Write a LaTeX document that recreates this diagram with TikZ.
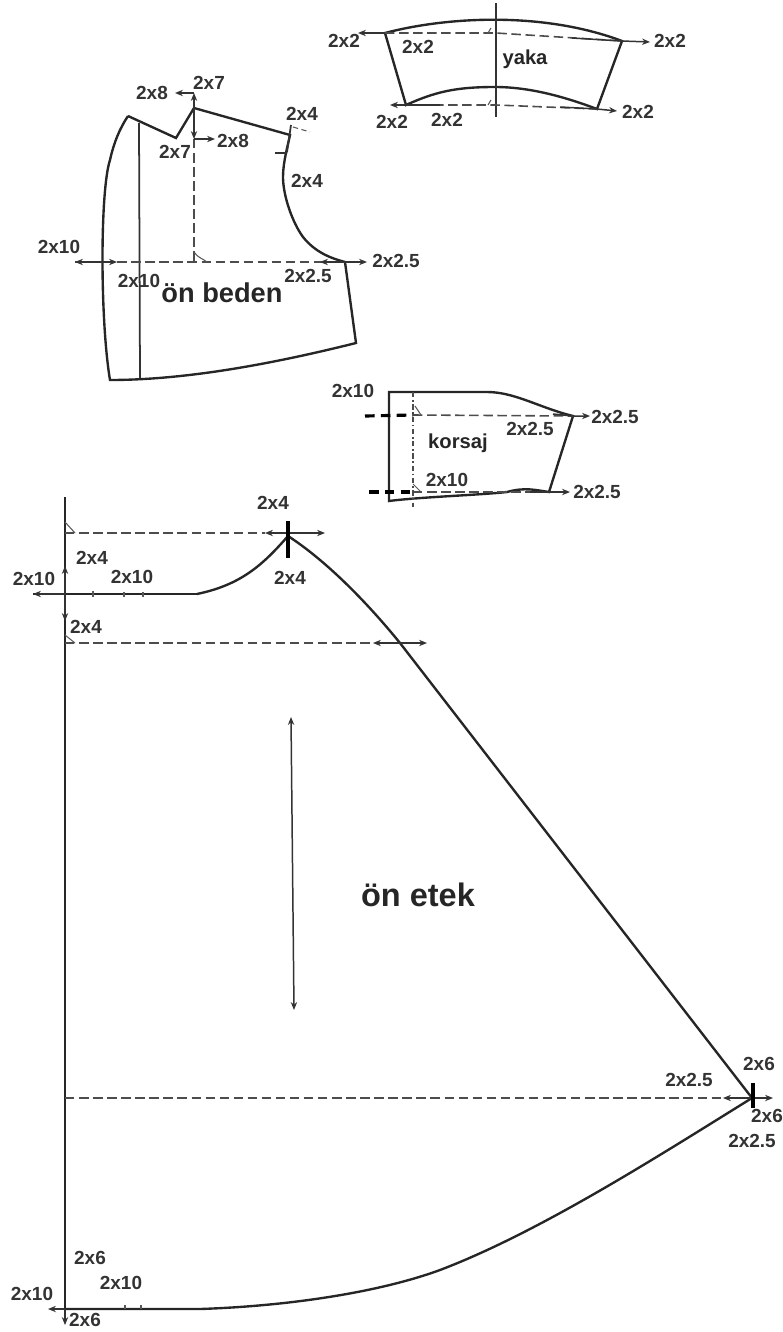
\documentclass[tikz,border=0pt]{standalone}
\usepackage{fontspec}
\setmainfont{Liberation Sans}
\usetikzlibrary{arrows.meta}
\tikzset{
  lbl/.style={font=\fontsize{10.8}{12}\selectfont\bfseries,text=black!80,inner sep=0pt},
  title/.style={font=\fontsize{11.5}{14}\selectfont\bfseries,text=black!85,inner sep=0pt},
  outline/.style={line width=1.35pt,black!85,line join=miter},
  thin line/.style={line width=1pt,black!80},
  dash line/.style={line width=0.9pt,black!70,dash pattern=on 5.4pt off 2.6pt},
  dim/.style={line width=0.85pt,black!80,-{Stealth[length=4.5pt,width=3.6pt]}},
  dimboth/.style={line width=0.85pt,black!80,{Stealth[length=4.5pt,width=3.6pt]}-{Stealth[length=4.5pt,width=3.6pt]}},
  mark line/.style={line width=2.1pt,black},
  corner/.style={line width=0.6pt,black!65}
}
\begin{document}
\begin{tikzpicture}[x=0.02cm,y=-0.02cm]

            \useasboundingbox (0,0) rectangle (782,1332);

            % yaka
            \path   (385,33) coordinate (ya)
                    (622,41) coordinate (yb)
                    (406,105) coordinate (yc)
                    (597,109) coordinate (yd)
                    (496,33) coordinate (ye)
                    (496,105) coordinate (yf)
                    (496,3) coordinate (yg)
                    (496,117) coordinate (yh)
                    (358,33) coordinate (yi)
                    (650,42) coordinate (yj)
                    (390,105) coordinate (yk)
                    (617,111) coordinate (yl);

            \draw[outline] (ya) .. controls (450,16) and (545,12) .. (yb) -- (yd)
                    .. controls (565,97) and (530,87) .. (495,87)
                    .. controls (455,87) and (435,92) .. (yc) -- cycle;
            \draw[thin line] (yg) -- (yh);
            \draw[dash line] (ya) -- (ye) -- (yb);
            \draw[dash line] (yc) -- (yf) -- (yd);
            \draw[dim] (ya) -- (yi);
            \draw[dim] (572,38) -- (yb) -- (yj);
            \draw[dim] (440,105) -- (yc) -- (yk);
            \draw[dim] (560,107) -- (yd) -- (yl);
            \draw[corner] (491,28) -- (488,33) (491,100) -- (488,105);

            \path   (344,41) node (y1) [lbl] {2x2}
                    (418,47) node (y2) [lbl] {2x2}
                    (670,41) node (y3) [lbl] {2x2}
                    (392,122) node (y4) [lbl] {2x2}
                    (447,120) node (y5) [lbl] {2x2}
                    (638,112) node (y6) [lbl] {2x2}
                    (525,59) node (yaka) [title] {yaka};

            % on beden
            \path   (128,116) coordinate (ba)
                    (176,138) coordinate (bb)
                    (194,108) coordinate (bc)
                    (290,135) coordinate (bd)
                    (345,262) coordinate (be)
                    (356,343) coordinate (bf)
                    (110,380) coordinate (bg)
                    (139,123) coordinate (bh)
                    (140,378) coordinate (bi)
                    (194,262) coordinate (bj)
                    (194,93) coordinate (bk)
                    (175,93) coordinate (bl)
                    (194,139) coordinate (bm)
                    (215,139) coordinate (bn)
                    (75,262) coordinate (bo)
                    (117,262) coordinate (bp)
                    (320,262) coordinate (bq)
                    (367,262) coordinate (br);

            \draw[outline] (ba) -- (bb) -- (bc) -- (bd) .. controls (288,145) and (283,162) .. (283,177)
                    .. controls (283,195) and (292,222) .. (303,237)
                    .. controls (315,252) and (330,258) .. (be) -- (bf)
                    .. controls (280,362) and (190,380) .. (bg)
                    .. controls (100,320) and (100,190) .. (110,160) .. controls (114,142) and (120,128) .. (ba);
            \draw[thin line] (bh) -- (bi);
            \draw[dash line] (bm) -- (bj);
            \draw[dash line] (bo) -- (be);
            \draw[dim] (bc) -- (bk);
            \draw[dim] (bc) -- (bm);
            \draw[dim] (bk) -- (bl);
            \draw[dim] (bm) -- (bn);
            \draw[dimboth] (bo) -- (bp);
            \draw[dimboth] (bq) -- (br);
            \draw[thin line] (291,125) -- (287,152) (275,153) -- (287,153);
            \draw[corner,densely dashed] (293,127) -- (310,132);
            \draw[corner] (194,252) .. controls (198,258) and (202,258) .. (207,262);

            \path   (209,83) node (b1) [lbl] {2x7}
                    (152,93) node (b2) [lbl] {2x8}
                    (302,114) node (b3) [lbl] {2x4}
                    (175,152) node (b4) [lbl] {2x7}
                    (233,141) node (b5) [lbl] {2x8}
                    (307,181) node (b6) [lbl] {2x4}
                    (59,247) node (b7) [lbl] {2x10}
                    (139,281) node (b8) [lbl] {2x10}
                    (308,276) node (b9) [lbl] {2x2.5}
                    (396,261) node (b10) [lbl] {2x2.5}
                    (222,293) node (beden) [title,font=\fontsize{15.5}{18}\selectfont\bfseries] {ön beden};

            % korsaj
            \path   (389,392) coordinate (ka)
                    (573,416) coordinate (kb)
                    (549,492) coordinate (kc)
                    (389,501) coordinate (kd)
                    (413,392) coordinate (ke)
                    (413,507) coordinate (kf)
                    (413,415) coordinate (kg)
                    (413,492) coordinate (kh)
                    (365,416) coordinate (ki)
                    (369,492) coordinate (kj)
                    (590,416) coordinate (kk)
                    (570,492) coordinate (kl);

            \draw[outline] (ka) -- (487,392) .. controls (515,392) and (540,408) .. (kb) -- (kc)
                    .. controls (535,490) and (525,487) .. (507,492) .. controls (480,495) and (420,497) .. (kd) -- cycle;
            \draw[dash line,dash pattern=on 3pt off 1.5pt on 1pt off 1.5pt] (ke) -- (kf);
            \draw[dash line] (kg) -- (kb);
            \draw[dash line] (kh) -- (kc);
            \draw[line width=1.8pt,black,dash pattern=on 5.5pt off 3.5pt] (ki) -- (kg);
            \draw[line width=1.8pt,black,dash pattern=on 5.5pt off 3.5pt] (kj) -- (kh);
            \draw[dim] (553,414) -- (kb) -- (kk);
            \draw[dim] (530,492) -- (kc) -- (kl);
            \draw[corner] (415,406) -- (421,415) (413,484) -- (421,492);

            \path   (353,391) node (k1) [lbl] {2x10}
                    (530,429) node (k2) [lbl] {2x2.5}
                    (447,480) node (k3) [lbl] {2x10}
                    (615,417) node (k4) [lbl] {2x2.5}
                    (597,492) node (k5) [lbl] {2x2.5}
                    (458,443) node (korsaj) [title] {korsaj};

            % on etek
            \path   (65,497) coordinate (ea)
                    (65,1325) coordinate (eb)
                    (65,533) coordinate (ec)
                    (288,536) coordinate (ed)
                    (288,521) coordinate (ee)
                    (288,558) coordinate (ef)
                    (265,533) coordinate (eg)
                    (325,533) coordinate (eh)
                    (33,594) coordinate (ei)
                    (197,594) coordinate (ej)
                    (65,594) coordinate (ek)
                    (65,566) coordinate (el)
                    (65,621) coordinate (em)
                    (65,643) coordinate (en)
                    (400,643) coordinate (eo)
                    (373,643) coordinate (ep)
                    (427,643) coordinate (eq)
                    (752,1098) coordinate (er)
                    (65,1098) coordinate (es)
                    (723,1098) coordinate (et)
                    (773,1098) coordinate (eu)
                    (753,1083) coordinate (ev)
                    (753,1108) coordinate (ew)
                    (65,1309) coordinate (ex)
                    (48,1309) coordinate (ey)
                    (291,717) coordinate (gt)
                    (294,1010) coordinate (gb);

            \draw[outline] (ea) -- (ex);
            \draw[outline] (ex) -- (200,1309) .. controls (290,1306) and (380,1292) .. (440,1270)
                    .. controls (540,1232) and (660,1155) .. (er);
            \draw[outline] (ej) .. controls (240,585) and (262,566) .. (ed)
                    .. controls (325,560) and (365,600) .. (eo) -- (er);
            \draw[outline] (ei) -- (ej);
            \draw[dash line] (ec) -- (eg);
            \draw[dash line] (en) -- (ep);
            \draw[dash line] (es) -- (et);
            \draw[dimboth] (eg) -- (eh);
            \draw[dimboth] (ep) -- (eq);
            \draw[dimboth] (et) -- (eu);
            \draw[dim] (ek) -- (ei);
            \draw[dim] (ek) -- (el);
            \draw[dim] (ek) -- (em);
            \draw[dim] (ex) -- (ey);
            \draw[dim] (ex) -- (eb);
            \draw[dimboth] (gt) -- (gb);
            \draw[mark line] (ee) -- (ef);
            \draw[mark line] (ev) -- (ew);
            \draw[corner] (65,522) -- (75,533) (65,635) -- (75,643);
            \draw[corner] (93,591) -- (93,597) (124,592) -- (124,597) (143,592) -- (143,597);
            \draw[corner] (125,1305) -- (125,1309) (141,1305) -- (141,1309);

            \path   (273,503) node (e1) [lbl] {2x4}
                    (290,578) node (e2) [lbl] {2x4}
                    (92,558) node (e3) [lbl] {2x4}
                    (34,579) node (e4) [lbl] {2x10}
                    (132,577) node (e5) [lbl] {2x10}
                    (86,627) node (e6) [lbl] {2x4}
                    (759,1064) node (e7) [lbl] {2x6}
                    (689,1080) node (e8) [lbl] {2x2.5}
                    (767,1116) node (e9) [lbl] {2x6}
                    (752,1141) node (e10) [lbl] {2x2.5}
                    (90,1258) node (e11) [lbl] {2x6}
                    (121,1283) node (e12) [lbl] {2x10}
                    (32,1294) node (e13) [lbl] {2x10}
                    (85,1320) node (e14) [lbl] {2x6}
                    (418,895) node (etek) [title,font=\fontsize{18.5}{22}\selectfont\bfseries] {ön etek};

\end{tikzpicture}
\end{document}
